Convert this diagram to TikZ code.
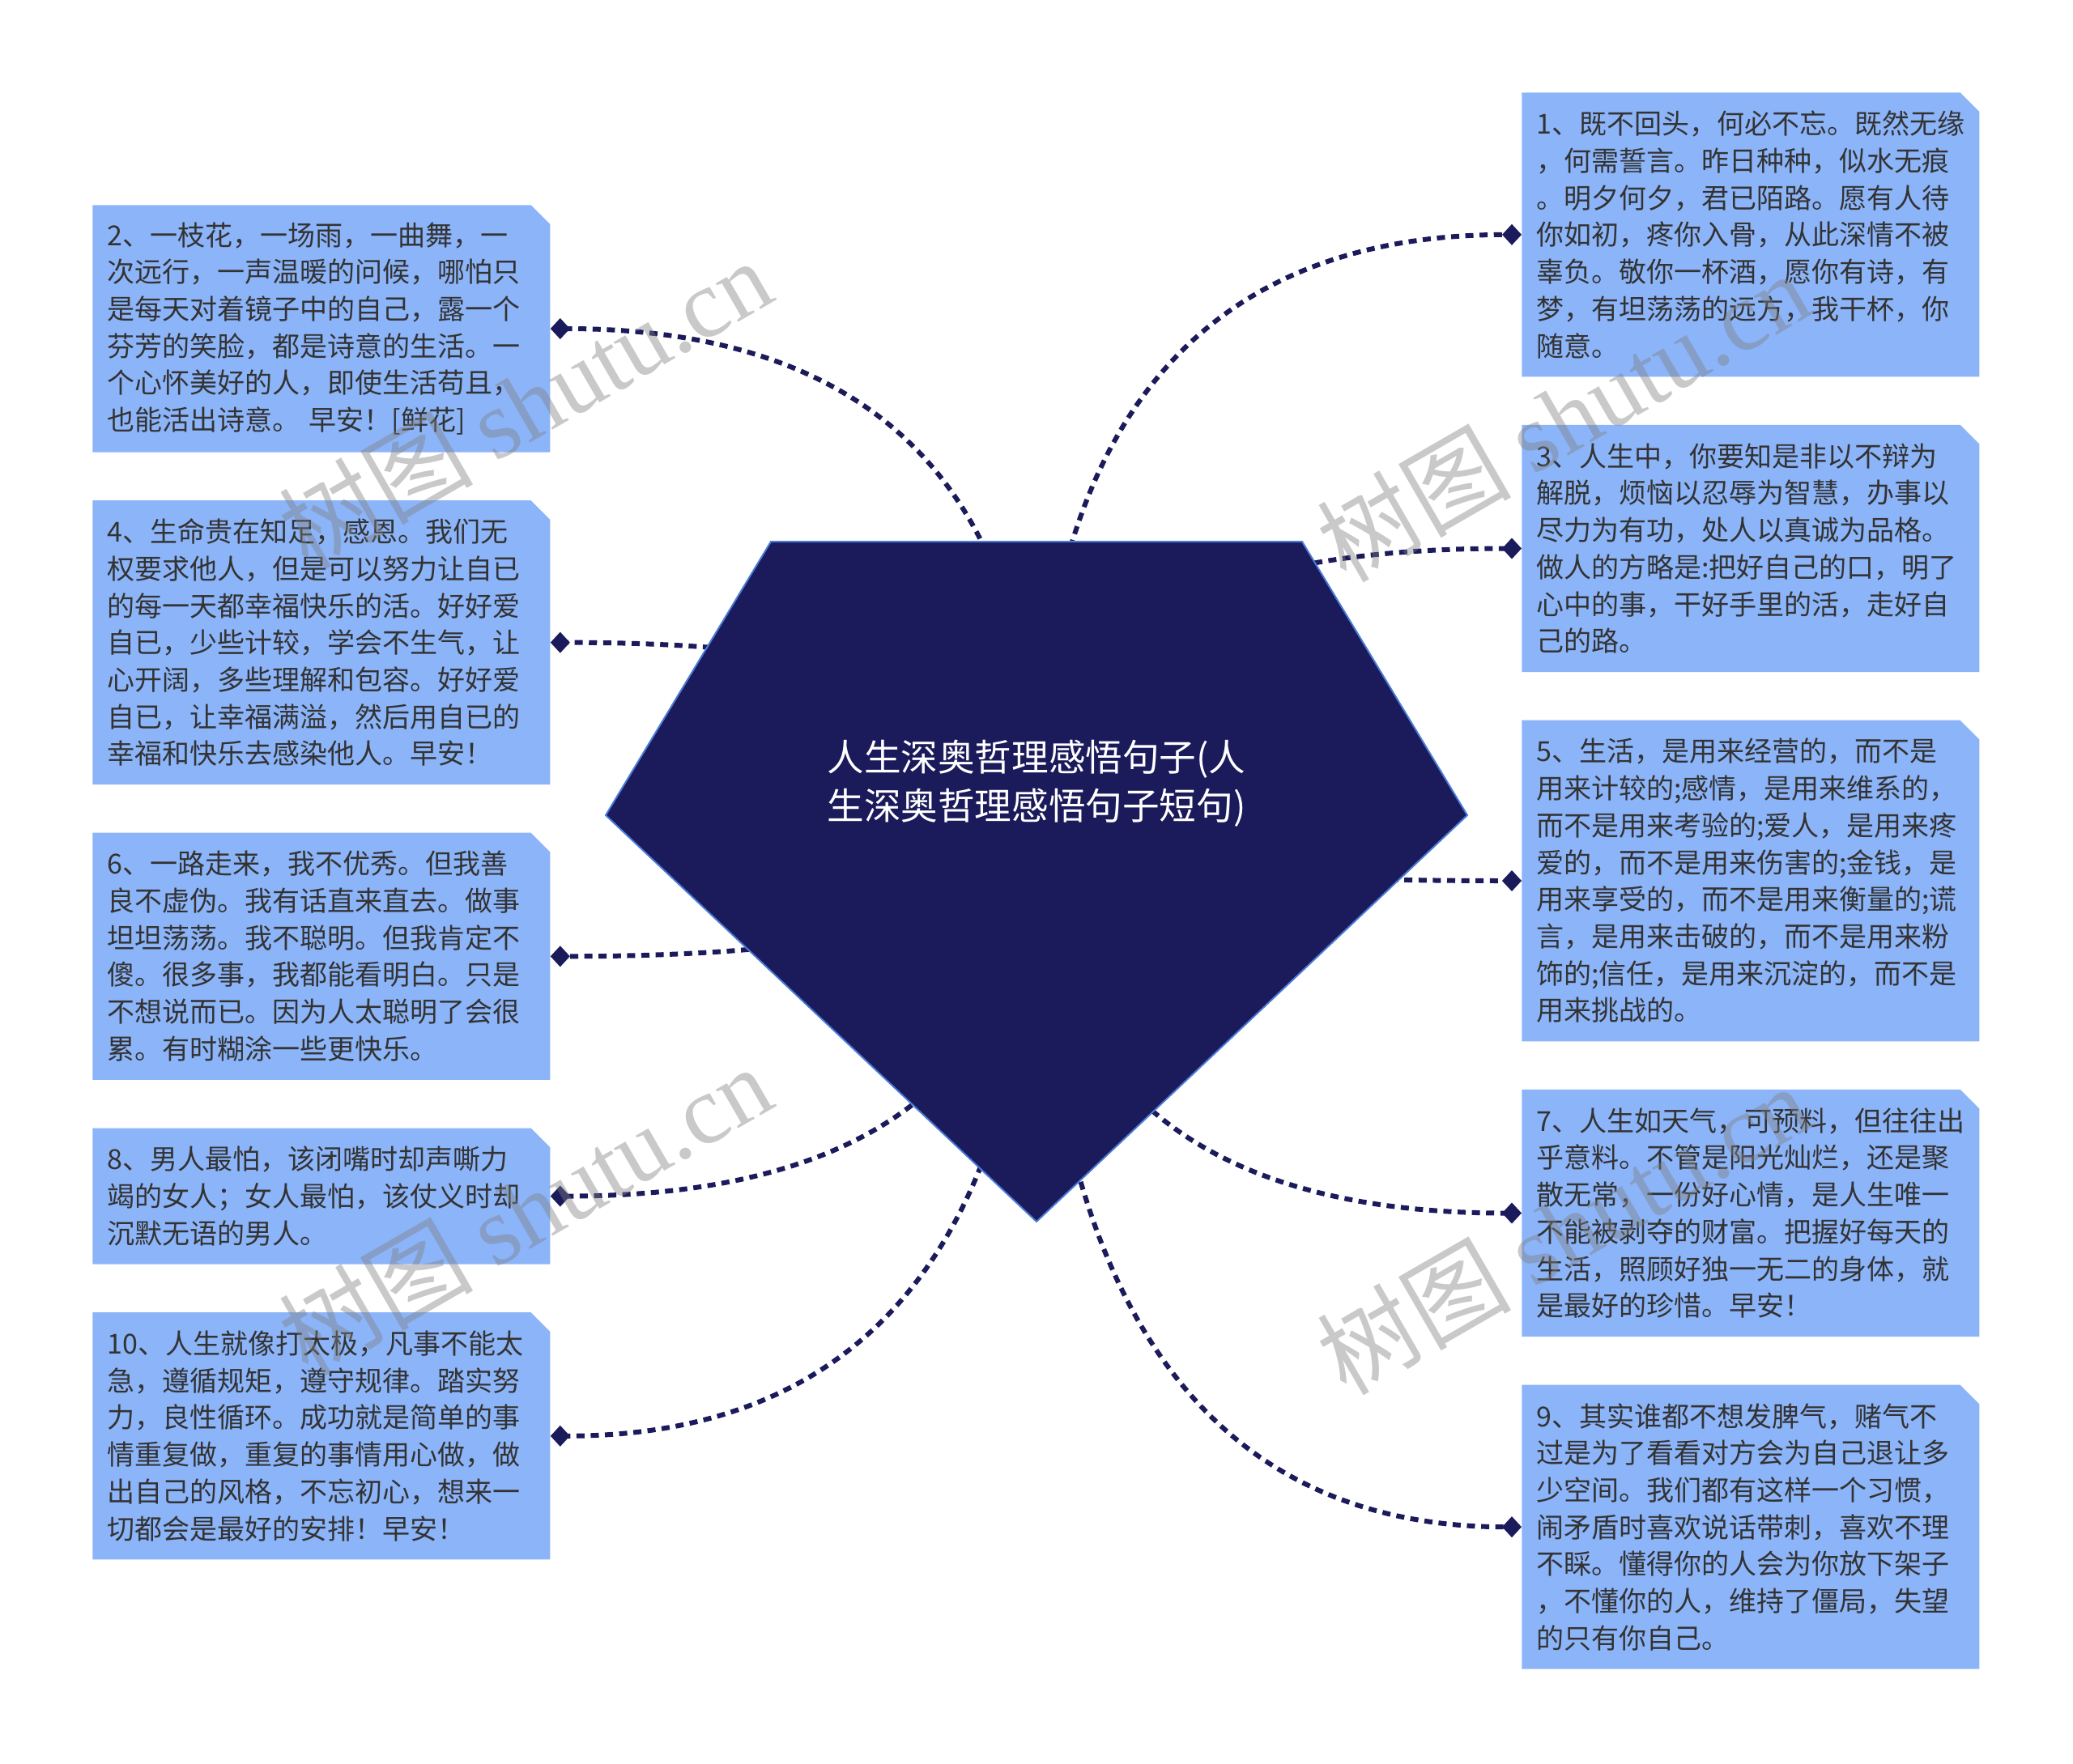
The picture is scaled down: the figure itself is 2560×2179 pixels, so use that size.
\documentclass[tikz,border=0pt]{standalone}
\usepackage{fontspec}
\usepackage{xcolor}
\usepackage{tikz}
\usetikzlibrary{shapes.misc, arrows.meta, positioning, calc}
\newfontfamily\cjk{Noto Sans CJK SC}
\newfontfamily\wmfont{Liberation Serif}
\definecolor{navy}{HTML}{1B1A5B}
\definecolor{rimblue}{HTML}{4A7BD8}
\definecolor{cardblue}{HTML}{8CB4F9}
\definecolor{inktext}{HTML}{333333}

\begin{document}
\begin{tikzpicture}[
  x=0.5pt, y=-0.5pt,
  node distance=29.4pt,
  card/.style={chamfered rectangle, chamfered rectangle corners=north east,
              chamfered rectangle xsep=9pt, fill=cardblue, align=left,
              font=\cjk\fontsize{17pt}{22.85pt}\selectfont, text=inktext,
              text width=264.5pt, minimum width=282.5pt,
              minimum height={#1*22.85pt+15.5pt}, inner xsep=0pt, inner ysep=2pt},
  rootlabel/.style={font=\cjk\fontsize{22.8pt}{30.2pt}\selectfont, text=white, align=center},
  hubshape/.style={fill=navy, draw=rimblue, line width=1pt},
  link/.style={draw=navy, line width=3pt, dash pattern=on 5pt off 3.8pt,
               -{Diamond[length=12pt, width=13pt]}},
  wmark/.style={text=gray, text opacity=0.42, rotate=30,
                font=\cjk\fontsize{60pt}{60pt}\selectfont}]
\useasboundingbox[fill=white] (0,0) rectangle (2560,2179);

\node[card=7, anchor=north west] (q1) at (1879,114) {1、既不回头，何必不忘。既然无缘\\，何需誓言。昨日种种，似水无痕\\。明夕何夕，君已陌路。愿有人待\\你如初，疼你入骨，从此深情不被\\辜负。敬你一杯酒，愿你有诗，有\\梦，有坦荡荡的远方，我干杯，你\\随意。};
\node[card=6, below=of q1] (q3) {3、人生中，你要知是非以不辩为\\解脱，烦恼以忍辱为智慧，办事以\\尽力为有功，处人以真诚为品格。\\做人的方略是:把好自己的口，明了\\心中的事，干好手里的活，走好自\\己的路。};
\node[card=8, below=of q3] (q5) {5、生活，是用来经营的，而不是\\用来计较的;感情，是用来维系的，\\而不是用来考验的;爱人，是用来疼\\爱的，而不是用来伤害的;金钱，是\\用来享受的，而不是用来衡量的;谎\\言，是用来击破的，而不是用来粉\\饰的;信任，是用来沉淀的，而不是\\用来挑战的。};
\node[card=6, below=of q5] (q7) {7、人生如天气，可预料，但往往出\\乎意料。不管是阳光灿烂，还是聚\\散无常，一份好心情，是人生唯一\\不能被剥夺的财富。把握好每天的\\生活，照顾好独一无二的身体，就\\是最好的珍惜。早安！};
\node[card=7, below=of q7] (q9) {9、其实谁都不想发脾气，赌气不\\过是为了看看对方会为自己退让多\\少空间。我们都有这样一个习惯，\\闹矛盾时喜欢说话带刺，喜欢不理\\不睬。懂得你的人会为你放下架子\\，不懂你的人，维持了僵局，失望\\的只有你自己。};

\node[card=6, anchor=north west] (q2) at (114,253) {2、一枝花，一场雨，一曲舞，一\\次远行，一声温暖的问候，哪怕只\\是每天对着镜子中的自己，露一个\\芬芳的笑脸，都是诗意的生活。一\\个心怀美好的人，即使生活苟且，\\也能活出诗意。 早安！[鲜花]};
\node[card=7, below=of q2] (q4) {4、生命贵在知足，感恩。我们无\\权要求他人，但是可以努力让自已\\的每一天都幸福快乐的活。好好爱\\自已，少些计较，学会不生气，让\\心开阔，多些理解和包容。好好爱\\自已，让幸福满溢，然后用自已的\\幸福和快乐去感染他人。早安！};
\node[card=6, below=of q4] (q6) {6、一路走来，我不优秀。但我善\\良不虚伪。我有话直来直去。做事\\坦坦荡荡。我不聪明。但我肯定不\\傻。很多事，我都能看明白。只是\\不想说而已。因为人太聪明了会很\\累。有时糊涂一些更快乐。};
\node[card=3, below=of q6] (q8) {8、男人最怕，该闭嘴时却声嘶力\\竭的女人；女人最怕，该仗义时却\\沉默无语的男人。};
\node[card=6, below=of q8] (q10) {10、人生就像打太极，凡事不能太\\急，遵循规矩，遵守规律。踏实努\\力，良性循环。成功就是简单的事\\情重复做，重复的事情用心做，做\\出自己的风格，不忘初心，想来一\\切都会是最好的安排！早安！};

\coordinate (hub) at (1280,1007);
\foreach \q in {q2,q4,q6,q8,q10}
  \draw[link] (hub) .. controls ($(hub)!.667!(hub |- \q.east)$) and ($(\q.east)!.667!(hub |- \q.east)$) .. (\q.east);
\foreach \q in {q1,q3,q5,q7,q9}
  \draw[link] (hub) .. controls ($(hub)!.667!(hub |- \q.west)$) and ($(\q.west)!.667!(hub |- \q.west)$) .. (\q.west);

\filldraw[hubshape] (952,669) -- (1608,669) -- (1812,1007) -- (1280,1509) -- (748,1007) -- cycle;
\node[rootlabel] (root) at (1280,968) {人生深奥哲理感悟句子(人\\生深奥哲理感悟句子短句)};

\node[wmark] (wm1) at (648,498) {树图 {\wmfont shutu.cn}};
\node[wmark] (wm2) at (648,1494) {树图 {\wmfont shutu.cn}};
\node[wmark] (wm3) at (1930,514) {树图 {\wmfont shutu.cn}};
\node[wmark] (wm4) at (1930,1518) {树图 {\wmfont shutu.cn}};
\end{tikzpicture}
\end{document}
